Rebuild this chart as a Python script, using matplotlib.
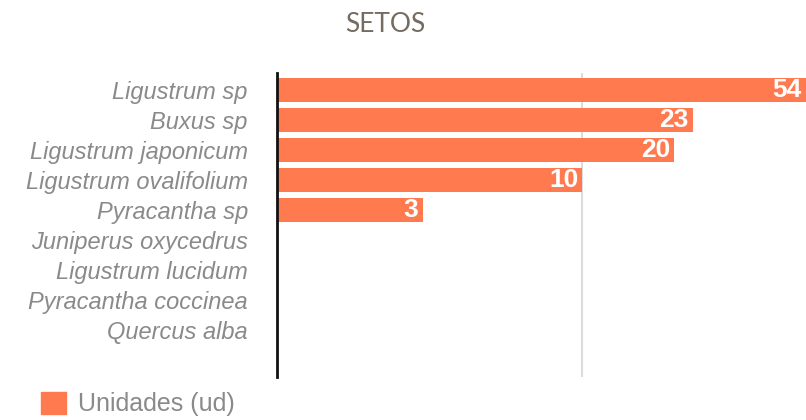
import numpy as np
import matplotlib
matplotlib.use("Agg")
import matplotlib.pyplot as plt
from matplotlib.patches import Patch
from matplotlib.ticker import NullLocator, FixedLocator

species = ["Ligustrum sp", "Buxus sp", "Ligustrum japonicum", "Ligustrum ovalifolium",
           "Pyracantha sp", "Juniperus oxycedrus", "Ligustrum lucidum",
           "Pyracantha coccinea", "Quercus alba"]
unidades = [54, 23, 20, 10, 3, 0, 0, 0, 0]

color_bar = "#ff7b4f"
gray = "#8a8a8a"

fig = plt.figure(figsize=(8.06, 4.2), dpi=100)
ax = fig.add_axes([277/806, 1-377/420, 1-277/806, (377-73)/420])

y = np.arange(len(species))
vals = np.array(unidades, dtype=float)
mask = vals > 0
# log axis starts at 1, so bars run from 1 to the value
ax.barh(y[mask], vals[mask] - 1, height=0.82, color=color_bar, left=1, zorder=2)

ax.set_xscale("log")
ax.set_xlim(1, 54)
ax.set_ylim(9.57, -0.57)

ax.xaxis.set_major_locator(FixedLocator([10]))
ax.xaxis.set_minor_locator(NullLocator())
ax.grid(axis="x", color="#dcdcdc", linewidth=1.5, zorder=0)
ax.tick_params(axis="x", length=0, labelbottom=False)

ax.set_yticks(y)
ax.set_yticklabels(species, fontsize=17, style="italic", color=gray,
                   family=["Liberation Sans", "DejaVu Sans"])
ax.tick_params(axis="y", length=0, pad=21)

for s in ["top", "right", "bottom"]:
    ax.spines[s].set_visible(False)
ax.spines["left"].set_color("#111111")
ax.spines["left"].set_linewidth(2)

for yi, v in zip(y, unidades):
    if v > 0:
        ax.annotate(str(v), (v, yi), xytext=(-3, 0), textcoords="offset points",
                    ha="right", va="center", color="white", fontsize=19,
                    fontweight="bold", family=["Liberation Sans", "DejaVu Sans"],
                    zorder=3)

fig.text(385/806, 1-24/420, "SETOS", ha="center", va="center", fontsize=19,
         color="#756b5f", family=["Lato", "DejaVu Sans"])

fig.legend(handles=[Patch(color=color_bar, label="Unidades (ud)")],
           loc="lower left", bbox_to_anchor=(18/806, -0.045), frameon=False,
           handlelength=1.0, handleheight=1.0, handletextpad=0.5,
           prop={"family": ["Liberation Sans", "DejaVu Sans"], "size": 18},
           labelcolor=gray)

fig.savefig("out.png", dpi=100)
